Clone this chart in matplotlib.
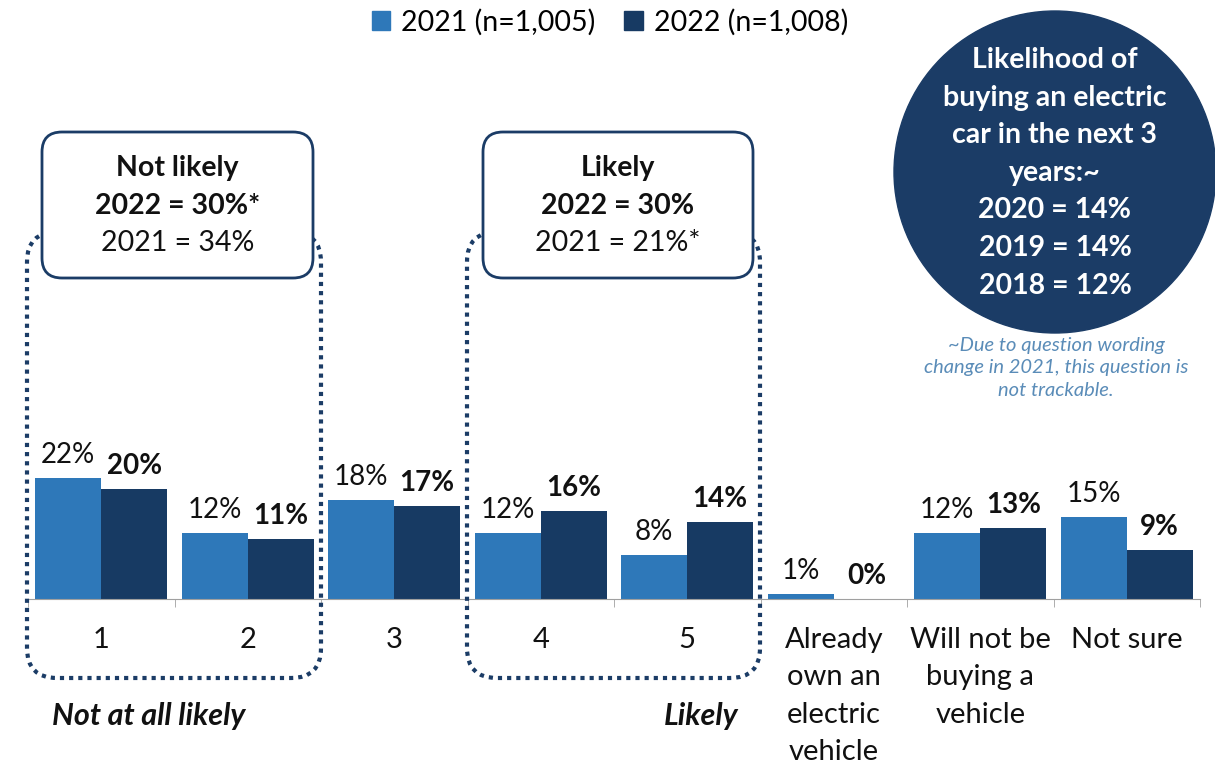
import numpy as np
import matplotlib
matplotlib.use('Agg')
import matplotlib.pyplot as plt
from matplotlib.patches import Patch, FancyBboxPatch, Circle

# ---------- data ----------
categories = ['1', '2', '3', '4', '5',
              'Already\nown an\nelectric\nvehicle',
              'Will not be\nbuying a\nvehicle',
              'Not sure']
vals_2021 = [22, 12, 18, 12, 8, 1, 12, 15]
vals_2022 = [20, 11, 17, 16, 14, 0, 13, 9]
series_names = ['2021 (n=1,005)', '2022 (n=1,008)']

box_not_likely = ['Not likely', '2022 = 30%*', '2021 = 34%']
box_likely = ['Likely', '2022 = 30%', '2021 = 21%*']
circle_lines = ['Likelihood of', 'buying an electric', 'car in the next 3',
                'years:~', '2020 = 14%', '2019 = 14%', '2018 = 12%']
footnote = '~Due to question wording\nchange in 2021, this question is\nnot trackable.'

c2021 = '#2E78B9'
c2022 = '#173A63'
navy = '#1B3C66'

plt.rcParams['font.family'] = ['Lato', 'DejaVu Sans']

W, H = 1215, 769
fig = plt.figure(figsize=(W / 100, H / 100), dpi=100)

# main bar axes (pixel placement)
ax = fig.add_axes([28 / W, 170 / H, 1172 / W, 165 / H])
x = np.arange(len(categories))
bw = 0.45
b1 = ax.bar(x - bw / 2, vals_2021, bw, color=c2021)
b2 = ax.bar(x + bw / 2, vals_2022, bw, color=c2022)
ax.set_xlim(-0.5, 7.5)
ax.set_ylim(0, 30)
for s in ['top', 'right', 'left']:
    ax.spines[s].set_visible(False)
ax.spines['bottom'].set_color('#A0A0A0')
ax.set_yticks([])
ax.set_xticks(x)
ax.set_xticklabels(categories, fontsize=21, va='top', linespacing=1.55, color='#111111')
ax.tick_params(axis='x', which='major', length=0, pad=20)
ax.set_xticks(np.arange(-0.5, 8, 1), minor=True)
ax.tick_params(axis='x', which='minor', length=6, color='#A0A0A0')
ax.patch.set_alpha(0)

for rect, v in zip(b1, vals_2021):
    ax.annotate(f'{v}%', (rect.get_x() + rect.get_width() / 2, v), xytext=(0, 7),
                textcoords='offset points', ha='center', va='bottom', fontsize=20,
                color='#111111', annotation_clip=False)
for rect, v in zip(b2, vals_2022):
    ax.annotate(f'{v}%', (rect.get_x() + rect.get_width() / 2, v), xytext=(0, 7),
                textcoords='offset points', ha='center', va='bottom', fontsize=20,
                fontweight='bold', color='#111111', annotation_clip=False)

# overlay in pixel coordinates for decorations
ov = fig.add_axes([0, 0, 1, 1], zorder=5)
ov.set_xlim(0, W)
ov.set_ylim(H, 0)
ov.axis('off')
ov.patch.set_alpha(0)

# dotted group outlines
for x0, x1 in [(27, 321), (467, 760)]:
    ov.add_patch(FancyBboxPatch((x0 + 30, 232 + 30), x1 - x0 - 60, 678 - 232 - 60,
                                boxstyle='round,pad=30', fill=False, ec=navy,
                                lw=3, ls=(0, (1, 1.2))))

# solid summary boxes
def summary_box(x0, x1, lines):
    ov.add_patch(FancyBboxPatch((x0 + 20, 132 + 20), x1 - x0 - 40, 278 - 132 - 40,
                                boxstyle='round,pad=20', fc='white', ec=navy, lw=2, zorder=3))
    cx = (x0 + x1) / 2
    weights = ['bold', 'bold', 'normal']
    for i, (t, w) in enumerate(zip(lines, weights)):
        ov.text(cx, 168 + i * 37.5, t, ha='center', va='center', fontsize=20.5,
                fontweight=w, color='#111111', zorder=4)

summary_box(42, 313, box_not_likely)
summary_box(483, 753, box_likely)

# circle callout
ov.add_patch(Circle((1055, 172), 161, color=navy, zorder=2))
for i, t in enumerate(circle_lines):
    ov.text(1055, 60 + i * 37.6, t, ha='center', va='center', fontsize=20.5,
            fontweight='bold', color='white', zorder=3)
ov.text(1056, 368, footnote, ha='center', va='center', fontsize=14.5,
        style='italic', color='#5A8CB8', linespacing=1.4)

# scale end labels
ov.text(52, 716, 'Not at all likely', ha='left', va='center', fontsize=22,
        fontweight='bold', style='italic', color='#111111')
ov.text(738, 716, 'Likely', ha='right', va='center', fontsize=22,
        fontweight='bold', style='italic', color='#111111')

# legend
handles = [Patch(color=c2021), Patch(color=c2022)]
fig.legend(handles, series_names, loc='upper center', bbox_to_anchor=(0.502, 1.022),
           ncol=2, frameon=False, fontsize=20.5, handlelength=0.65, handleheight=0.65,
           handletextpad=0.4, columnspacing=1.0)

fig.savefig('out.png', dpi=100)
